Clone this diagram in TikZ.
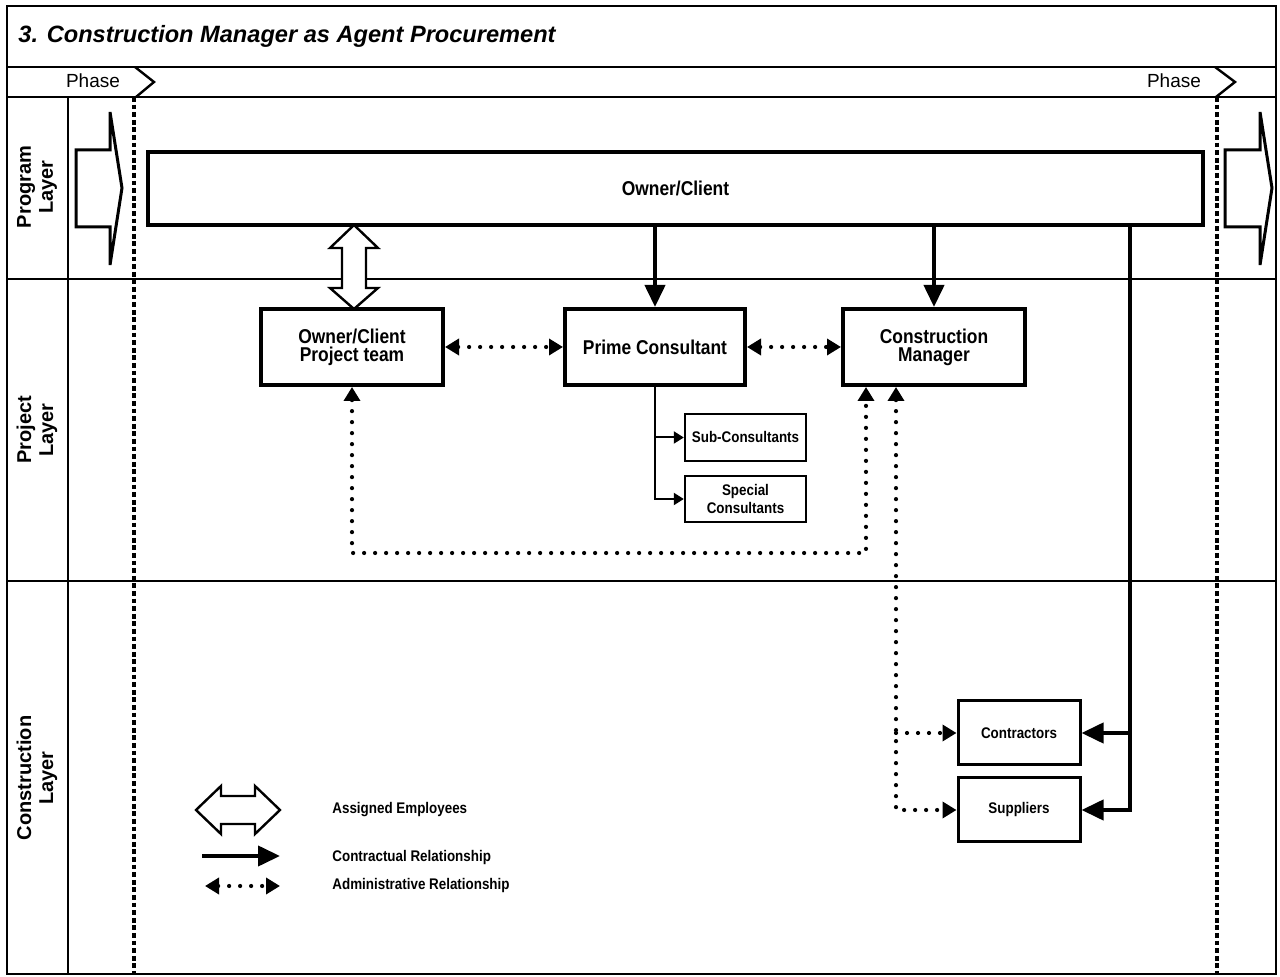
\documentclass[tikz,border=0pt]{standalone}
\usepackage{fontspec}
\setmainfont{Liberation Sans}
\newfontfamily\narrowfont[FakeStretch=0.87]{Liberation Sans}
\usetikzlibrary{arrows.meta,calc}

\tikzset{
  frameline/.style={line width=1pt},
  phaseline/.style={line width=1.7pt, dash pattern=on 2.4pt off 1.4pt},
  layerlabel/.style={rotate=90, align=center, font=\bfseries\fontsize{10}{11}\selectfont},
  box/.style={draw, line width=2pt, fill=white, align=center, inner sep=0pt,
    font=\narrowfont\bfseries\fontsize{10}{9}\selectfont},
  smallbox/.style={draw, line width=1.2pt, fill=white, align=center, inner sep=0pt,
    font=\narrowfont\bfseries\fontsize{7.7}{9}\selectfont},
  contract/.style={line width=2pt, -{Triangle[length=11pt,width=10pt]}},
  admin/.style={line width=2.1pt, line cap=round, dash pattern=on 0pt off 5.5pt,
    {Triangle[length=7pt,width=8pt]}-{Triangle[length=7pt,width=8pt]}},
  adminend/.style={admin, -{Triangle[length=7pt,width=8pt]}},
  branch/.style={line width=1pt, -{Triangle[length=5pt,width=6pt]}},
  employ/.style={line width=1.2pt, fill=white},
  bigarrow/.style={line width=1.5pt, fill=white},
  legendtext/.style={anchor=west, inner sep=0pt, font=\narrowfont\bfseries\fontsize{7.7}{9}\selectfont},
}

\begin{document}
\begin{tikzpicture}[x=0.5pt,y=-0.5pt]
  \useasboundingbox (0,0) rectangle (1280,977);

  % frame and bands
  \draw[frameline] (7,6) rectangle (1276,974);
  \foreach \yy in {67,97,279,581}
    \draw[frameline] (7,\yy) -- (1276,\yy);
  \draw[frameline] (68,97) -- (68,974);

  \node[anchor=west, inner sep=0pt, font=\bfseries\itshape\fontsize{11.8}{14}\selectfont] (title) at (18,36)
    {3. Construction Manager as Agent Procurement};

  % phases
  \node[font=\fontsize{9.5}{11}\selectfont] (phaseL) at (93,81) {Phase};
  \node[font=\fontsize{9.5}{11}\selectfont] (phaseR) at (1174,81) {Phase};
  \draw[line width=1.2pt] (135,67) -- (154,82) -- (136,97);
  \draw[line width=1.2pt] (1215,67) -- (1235,82) -- (1216,97);
  \draw[phaseline] (134,97) -- (134,974);
  \draw[phaseline] (1217,97) -- (1217,974);

  % layers
  \node[layerlabel] (program) at (37,187) {Program\\Layer};
  \node[layerlabel] (project) at (37,430) {Project\\Layer};
  \node[layerlabel] (construction) at (37,778) {Construction\\Layer};

  \draw[bigarrow] (76,150) -- (110,150) -- (110,112) -- (122,188) -- (110,265)
    -- (110,227) -- (76,227) -- cycle;
  \draw[bigarrow] (1225,150) -- (1260,150) -- (1260,112) -- (1272,188) -- (1260,265)
    -- (1260,227) -- (1225,227) -- cycle;

  % boxes
  \node[box, minimum width=527.5pt, minimum height=36.5pt] (owner) at (675.5,188.5) {Owner/Client};
  \node[box, minimum width=91pt, minimum height=38pt] (team) at (352,347) {Owner/Client\\Project team};
  \node[box, minimum width=90pt, minimum height=38pt] (prime) at (655,347) {Prime Consultant};
  \node[box, minimum width=91pt, minimum height=38pt] (cm) at (934,347) {Construction\\Manager};
  \node[smallbox, minimum width=60.5pt, minimum height=23.5pt] (sub) at (745.5,437.5) {Sub-Consultants};
  \node[smallbox, minimum width=60.5pt, minimum height=23pt] (special) at (745.5,499) {Special\\Consultants};
  \node[smallbox, line width=1.5pt, minimum width=61pt, minimum height=32pt] (contractors) at (1019,733) {Contractors};
  \node[smallbox, line width=1.5pt, minimum width=61pt, minimum height=32pt] (suppliers) at (1019,810) {Suppliers};

  % assigned employees
  \begin{scope}[shift={(354,309)}]
    \draw[employ] (0,-84) -- (24,-61) -- (12,-61) -- (12,-21) -- (24,-21) -- (0,0)
      -- (-24,-21) -- (-12,-21) -- (-12,-61) -- (-24,-61) -- cycle;
  \end{scope}

  % contractual
  \coordinate (trunk) at (1130,225);
  \draw[contract] (owner.south -| prime.north) -- (prime.north);
  \draw[contract] (owner.south -| cm.north) -- (cm.north);
  \draw[contract] (trunk) |- (suppliers.east);
  \draw[contract] (trunk |- contractors.east) -- (contractors.east);

  \draw[branch] (prime.south) |- (special.west);
  \draw[branch] (prime.south |- sub.west) -- (sub.west);

  % administrative
  \coordinate (cmA) at ($(cm.south west)+(25,0)$);
  \coordinate (cmB) at ($(cm.south west)+(55,0)$);
  \draw[admin] (team.east) -- (prime.west);
  \draw[admin] (prime.east) -- (cm.west);
  \draw[admin] (team.south) -- ++(0,166) -| (cmA);
  \draw[admin] (cmB) |- (suppliers.west);
  \draw[adminend] (cmB |- contractors.west) -- (contractors.west);

  % legend
  \begin{scope}[shift={(238,810)}]
    \draw[employ] (-42,0) -- (-17,-24) -- (-17,-14) -- (17,-14) -- (17,-24) -- (42,0)
      -- (17,24) -- (17,14) -- (-17,14) -- (-17,24) -- cycle;
  \end{scope}
  \coordinate (legA) at (202,856);
  \coordinate (legB) at (280,856);
  \coordinate (legC) at (205,886);
  \coordinate (legD) at (280,886);
  \draw[contract] (legA) -- (legB);
  \draw[admin] (legC) -- (legD);
  \node[legendtext] (legemp) at (332,810) {Assigned Employees};
  \node[legendtext] (legcon) at (332,858) {Contractual Relationship};
  \node[legendtext] (legadm) at (332,886) {Administrative Relationship};
\end{tikzpicture}
\end{document}
